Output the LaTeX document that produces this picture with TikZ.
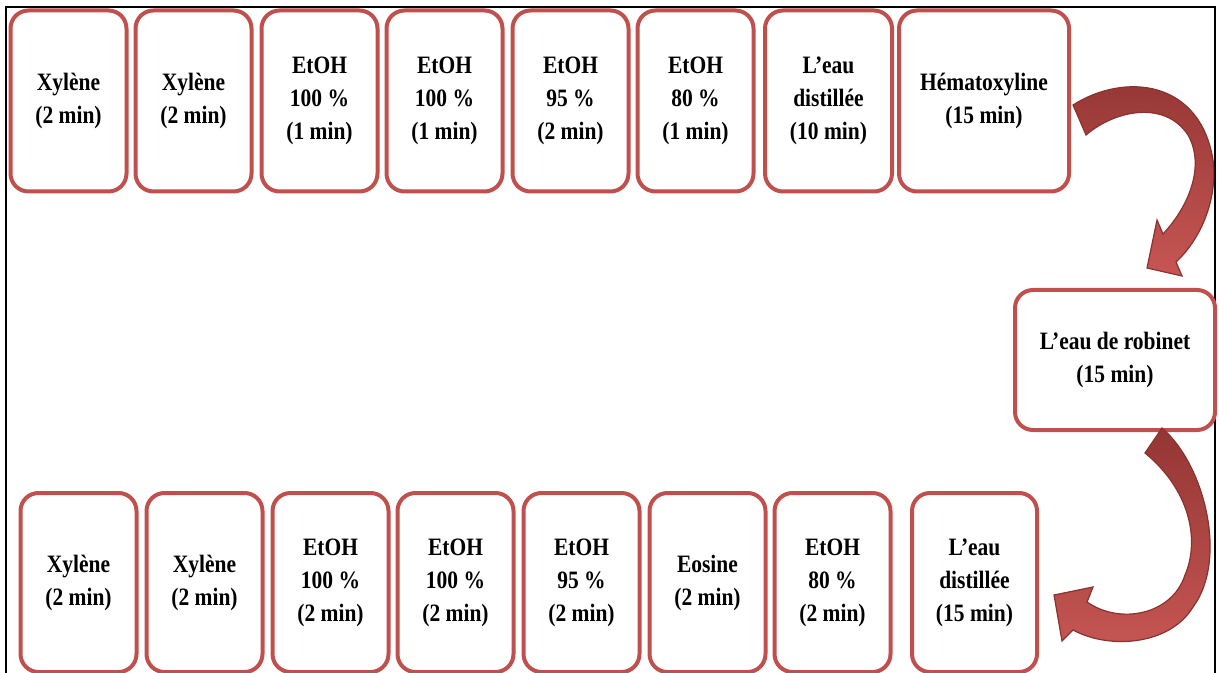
\documentclass[tikz,border=0pt]{standalone}
\usepackage{fontspec}
\setmainfont{Liberation Serif}[FakeStretch=0.86]
\definecolor{boxred}{HTML}{C0504D}
\definecolor{arrdark}{HTML}{943634}
\definecolor{arrlight}{HTML}{C65653}
\definecolor{arrline}{HTML}{8A3230}
\begin{document}
\begin{tikzpicture}[
  x=0.5pt, y=-0.5pt,
  stepcell/.style={draw=boxred, line width=2pt, rounded corners=9pt, fill=white,
    inner sep=0pt, align=center, font=\fontsize{12.5}{16.5}\selectfont\bfseries},
  toprow/.style={stepcell, minimum height=90.5pt},
  botrow/.style={stepcell, minimum height=89.5pt},
  arrowband/.style={top color=arrdark, bottom color=arrlight, draw=arrline, line width=0.6pt},
]
\useasboundingbox (0,0) rectangle (1219,673);

% frame
\draw[line width=1pt] (6,673) -- (6,7) -- (1215,7) -- (1215,673);

% ---------- first row: deparaffinage + hematoxyline ----------
\foreach \cx/\bw/\txt [count=\i] in {
    68.5/58/{Xylène\\(2 min)},
    193.5/58/{Xylène\\(2 min)},
    319.5/58/{EtOH\\100 \%\\(1 min)},
    444.5/58/{EtOH\\100 \%\\(1 min)},
    570.5/58/{EtOH\\95 \%\\(2 min)},
    695.5/58/{EtOH\\80 \%\\(1 min)},
    828.5/63.5/{L’eau\\distillée\\(10 min)},
    984/85/{Hématoxyline\\(15 min)}} {
  \node[toprow, minimum width=\bw pt] (t\i) at (\cx,101) {\txt};
}

% rinsing step
\node[stepcell, minimum width=100pt, minimum height=70pt] (rob) at (1115,360)
  {L’eau de robinet\\(15 min)};

% ---------- second row: eosine + dehydration ----------
\foreach \cx/\bw/\txt [count=\i] in {
    78.5/58/{Xylène\\(2 min)},
    204.5/58/{Xylène\\(2 min)},
    330.5/58/{EtOH\\100 \%\\(2 min)},
    455.5/58/{EtOH\\100 \%\\(2 min)},
    581.5/58/{EtOH\\95 \%\\(2 min)},
    707.5/58/{Eosine\\(2 min)},
    832.5/58/{EtOH\\80 \%\\(2 min)},
    974.5/62.5/{L’eau\\distillée\\(15 min)}} {
  \node[botrow, minimum width=\bw pt] (b\i) at (\cx,582.5) {\txt};
}

% ---------- curved arrows ----------
% hematoxyline -> robinet
\path[arrowband] (1073,105) .. controls (1125,72) and (1200,80) .. (1213,160)
  .. controls (1218,200) and (1200,240) .. (1176,262) -- (1182,276) -- (1147,268)
  -- (1157,220) -- (1163,234) .. controls (1190,205) and (1205,165) .. (1188,135)
  .. controls (1165,100) and (1115,110) .. (1086,135) -- cycle;
% robinet -> eau distillee
\path[arrowband] (1162,428) .. controls (1205,465) and (1228,560) .. (1193,607)
  .. controls (1170,645) and (1110,650) .. (1073,630) -- (1062,641) -- (1054,595)
  -- (1093,587) -- (1087,602) .. controls (1120,625) and (1172,615) .. (1185,575)
  .. controls (1200,540) and (1190,490) .. (1145,453) -- cycle;

\end{tikzpicture}
\end{document}
